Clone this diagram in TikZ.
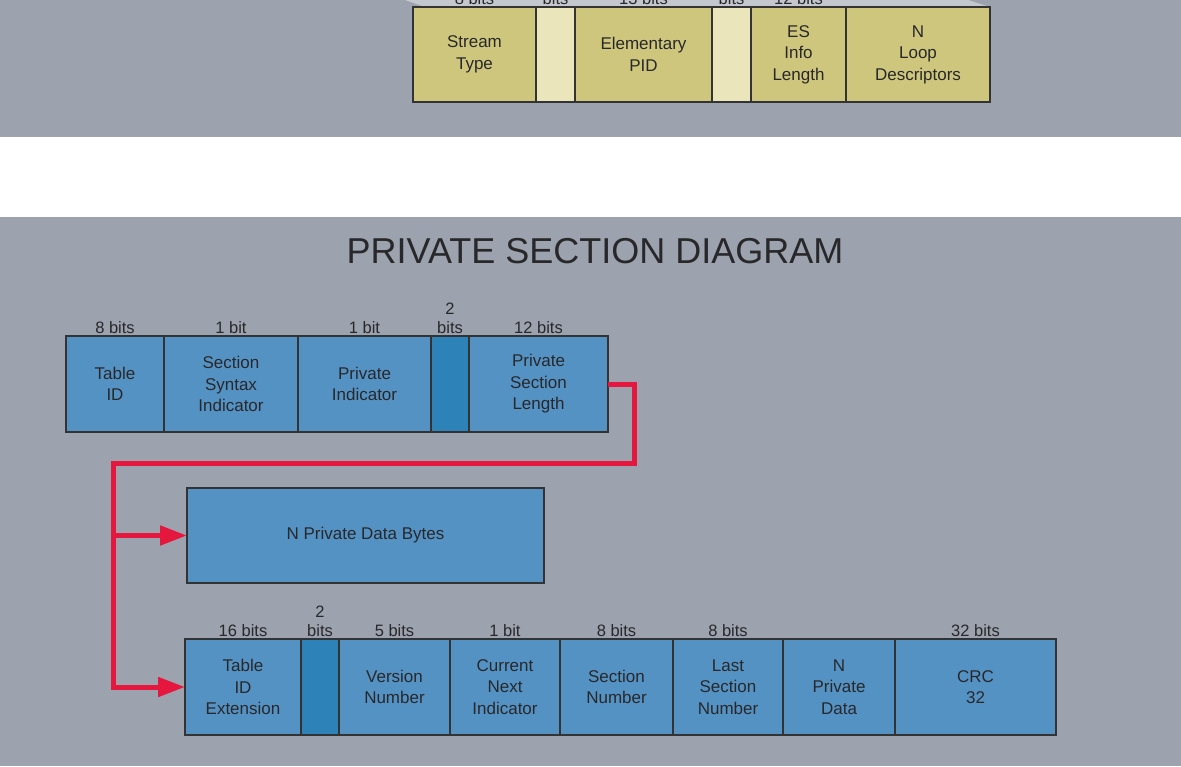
\documentclass[tikz,border=0pt]{standalone}
\usepackage{fontspec}
\setmainfont{Liberation Sans}
\usetikzlibrary{positioning,arrows.meta}
\definecolor{panelgrey}{RGB}{156,163,174}
\definecolor{bandgrey}{RGB}{196,200,206}
\definecolor{fieldblue}{RGB}{85,146,196}
\definecolor{resblue}{RGB}{45,130,184}
\definecolor{fieldkhaki}{RGB}{207,198,126}
\definecolor{reskhaki}{RGB}{235,229,188}
\definecolor{linkred}{RGB}{229,23,63}
\definecolor{textdark}{RGB}{40,40,42}
\tikzset{
	field/.style={draw=black!80, line width=1.1pt, fill=fieldblue, minimum height=96pt,
		inner sep=0pt, outer sep=0pt, align=center, text=textdark,
		font=\fontsize{17}{21.5}\selectfont},
	resfield/.style={field, fill=resblue, minimum width=38pt},
	pmtfield/.style={field, fill=fieldkhaki, minimum height=95pt},
	pmtres/.style={pmtfield, fill=reskhaki, minimum width=39pt},
	bitlabel/.style={inner sep=2pt, align=center, text=textdark,
		font=\fontsize{16.5}{19}\selectfont},
	link/.style={draw=linkred, line width=5pt, -{Triangle[length=27pt,width=19pt]}}
}
\begin{document}
\begin{tikzpicture}[x=1pt, y=-1pt]
	%%%%% START %%%%%
	\useasboundingbox (0,0) rectangle (1181,766);
	\fill[white] (0,0) rectangle (1181,766);
	
	% panels
	\fill[panelgrey] (0,0) rectangle (1181,137);
	\fill[panelgrey] (0,217) rectangle (1181,766);
	\fill[bandgrey] (405,0) -- (425,7) -- (990,7) -- (968,0) -- cycle;
	
	% program map section loop (upper panel)
	\node[pmtfield, minimum width=123pt, anchor=north west] (stype) at (413,7) {Stream\\Type};
	\node[pmtres, right=0pt of stype] (pres1) {};
	\node[pmtfield, minimum width=137pt, right=0pt of pres1] (epid) {Elementary\\PID};
	\node[pmtres, right=0pt of epid] (pres2) {};
	\node[pmtfield, minimum width=95pt, right=0pt of pres2] (esinfo) {ES\\Info\\Length};
	\node[pmtfield, minimum width=144pt, right=0pt of esinfo] (nloop) {N\\Loop\\Descriptors};
	
	\node[bitlabel, above=0pt of stype] (stypebits) {8 bits};
	\node[bitlabel, above=0pt of pres1] (pres1bits) {3\\bits};
	\node[bitlabel, above=0pt of epid] (epidbits) {13 bits};
	\node[bitlabel, above=0pt of pres2] (pres2bits) {4\\bits};
	\node[bitlabel, above=0pt of esinfo] (esinfobits) {12 bits};
	
	% title
	\node[text=textdark, font=\fontsize{36}{40}\selectfont] (title) at (595,251) {PRIVATE SECTION DIAGRAM};
	
	% header row
	\node[field, minimum width=98pt, anchor=north west] (tid) at (66,336) {Table\\ID};
	\node[field, minimum width=134pt, right=0pt of tid] (ssi) {Section\\Syntax\\Indicator};
	\node[field, minimum width=133pt, right=0pt of ssi] (pind) {Private\\Indicator};
	\node[resfield, right=0pt of pind] (res1) {};
	\node[field, minimum width=139pt, right=0pt of res1] (psl) {Private\\Section\\Length};
	
	\node[bitlabel, above=0pt of tid] (tidbits) {8 bits};
	\node[bitlabel, above=0pt of ssi] (ssibits) {1 bit};
	\node[bitlabel, above=0pt of pind] (pindbits) {1 bit};
	\node[bitlabel, above=0pt of res1] (res1bits) {2\\bits};
	\node[bitlabel, above=0pt of psl] (pslbits) {12 bits};
	
	% private data bytes
	\node[field, minimum width=357pt, minimum height=95pt, anchor=north west] (pdb) at (187,488) {N Private Data Bytes};
	
	% long form row
	\node[field, minimum width=116pt, anchor=north west] (tide) at (185,639) {Table\\ID\\Extension};
	\node[resfield, right=0pt of tide] (res2) {};
	\node[field, minimum width=111pt, right=0pt of res2] (vnum) {Version\\Number};
	\node[field, minimum width=110pt, right=0pt of vnum] (cni) {Current\\Next\\Indicator};
	\node[field, minimum width=113pt, right=0pt of cni] (snum) {Section\\Number};
	\node[field, minimum width=110pt, right=0pt of snum] (lsnum) {Last\\Section\\Number};
	\node[field, minimum width=112pt, right=0pt of lsnum] (npd) {N\\Private\\Data};
	\node[field, minimum width=161pt, right=0pt of npd] (crc) {CRC\\32};
	
	\node[bitlabel, above=0pt of tide] (tidebits) {16 bits};
	\node[bitlabel, above=0pt of res2] (res2bits) {2\\bits};
	\node[bitlabel, above=0pt of vnum] (vnumbits) {5 bits};
	\node[bitlabel, above=0pt of cni] (cnibits) {1 bit};
	\node[bitlabel, above=0pt of snum] (snumbits) {8 bits};
	\node[bitlabel, above=0pt of lsnum] (lsnumbits) {8 bits};
	\node[bitlabel, above=0pt of crc] (crcbits) {32 bits};
	
	% red connectors
	\coordinate (bend) at (634,463);
	\coordinate (spine) at (113,463);
	\draw[link] (psl.east) -| (bend) -- (spine) |- (tide.west);
	\draw[link] (spine |- pdb.west) -- (pdb.west);
	%%%%% END %%%%%
\end{tikzpicture}
\end{document}
